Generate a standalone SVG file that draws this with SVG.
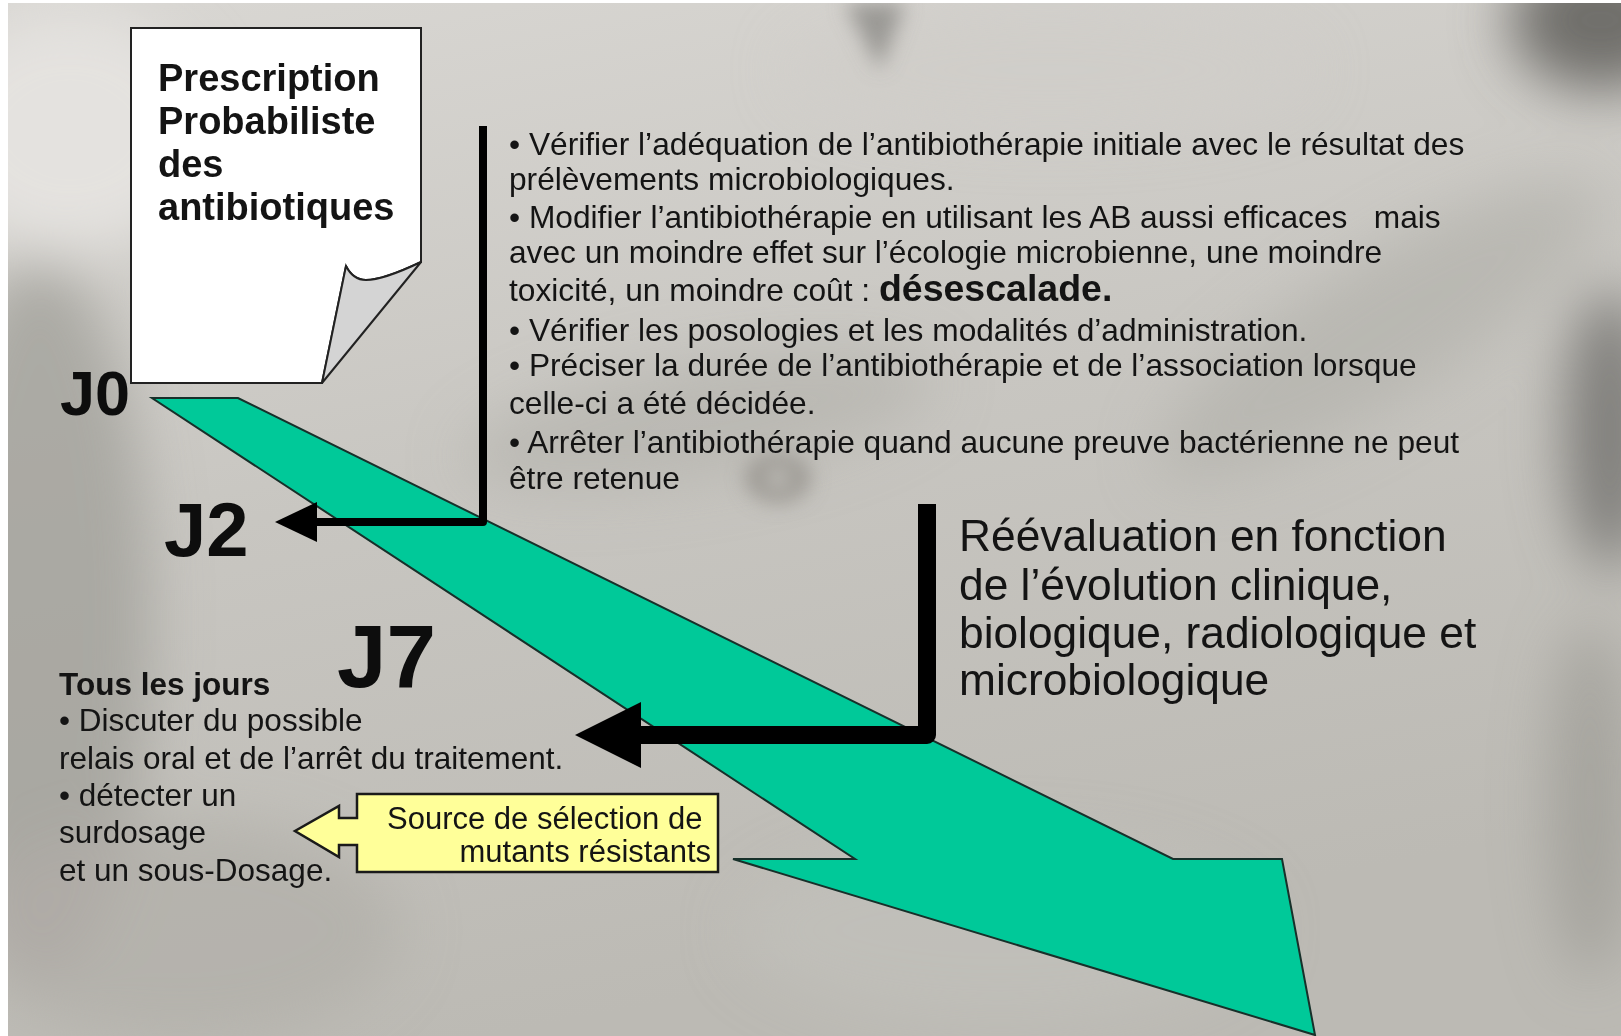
<svg xmlns="http://www.w3.org/2000/svg" width="1621" height="1036" viewBox="0 0 1621 1036">
  <defs>
    <linearGradient id="bg" x1="0" y1="0" x2="0.3" y2="1">
      <stop offset="0" stop-color="#d9d7d3"/>
      <stop offset="0.5" stop-color="#c8c6c1"/>
      <stop offset="1" stop-color="#bcbab4"/>
    </linearGradient>
    <filter id="blur" x="-50%" y="-50%" width="200%" height="200%">
      <feGaussianBlur stdDeviation="28"/>
    </filter>
    <filter id="blur2" x="-50%" y="-50%" width="200%" height="200%">
      <feGaussianBlur stdDeviation="10"/>
    </filter>
    <clipPath id="photo">
      <rect x="8" y="3" width="1613" height="1033"/>
    </clipPath>
    <style>
      .t { font-family: "Liberation Sans", Arial, sans-serif; fill: #141414; }
      .mid { font-size: 31.7px; }
      .big { font-size: 44.3px; }
      .left { font-size: 31.5px; }
      .b { font-weight: bold; }
      .day { font-family: "Liberation Sans", Arial, sans-serif; font-weight: bold; fill: #0d0d0d; }
      .bar { fill: none; stroke: #000; stroke-linejoin: round; stroke-linecap: butt; }
    </style>
  </defs>

  <!-- background photo approximation -->
  <rect width="1621" height="1036" fill="#ffffff"/>
  <g id="background" clip-path="url(#photo)">
    <rect x="8" y="3" width="1613" height="1033" fill="url(#bg)"/>
    <g filter="url(#blur)">
      <ellipse cx="70" cy="130" rx="140" ry="120" fill="#e4e2df"/>
      <ellipse cx="40" cy="620" rx="110" ry="360" fill="#a3a19b" opacity="0.8"/>
      <ellipse cx="180" cy="930" rx="220" ry="110" fill="#b0aea8" opacity="0.7"/>
      <ellipse cx="1600" cy="20" rx="90" ry="70" fill="#6f6e6b"/>
      <ellipse cx="1610" cy="430" rx="45" ry="140" fill="#7f7e7a"/>
      <ellipse cx="1590" cy="800" rx="40" ry="180" fill="#9a9893" opacity="0.7"/>
      <ellipse cx="1380" cy="330" rx="260" ry="70" fill="#b4b2ad" opacity="0.7" transform="rotate(-32 1380 330)"/>
      <ellipse cx="700" cy="420" rx="240" ry="60" fill="#b2b0aa" opacity="0.6" transform="rotate(-10 700 420)"/>
      <ellipse cx="1050" cy="70" rx="260" ry="60" fill="#cfcdc9" opacity="0.8"/>
      <ellipse cx="1000" cy="930" rx="260" ry="90" fill="#c2c0bb" opacity="0.7"/>
    </g>
    <g filter="url(#blur2)">
      <path d="M845,3 L905,3 L880,70 Z" fill="#8c8b87" opacity="0.8"/>
      <ellipse cx="778" cy="478" rx="32" ry="24" fill="#8e8c86" opacity="0.8"/>
      <ellipse cx="778" cy="478" rx="12" ry="8" fill="#c9c7c2"/>
    </g>
  </g>

  <!-- main timeline arrow -->
  <g id="timeline">
    <polygon points="152,398 238,398 1173,859 1282,859 1315,1035 733,859 855,859" fill="#00c999" stroke="#17302a" stroke-width="2" stroke-linejoin="miter"/>
  </g>

  <!-- connectors -->
  <g id="connectors">
    <path class="bar" d="M483,126 V522 H312" stroke-width="8"/>
    <polygon points="275,522 317,502 317,542" fill="#000"/>
    <path class="bar" d="M927,504 V735 H636" stroke-width="18"/>
    <polygon points="575,735 641,702 641,768" fill="#000"/>
  </g>

  <!-- prescription note -->
  <g id="node-prescription">
    <path d="M131,28 H421 V262 C400,272 380,280 366,280 C356,280 350,274 346,266 L322,383 H131 Z" fill="#ffffff" stroke="#222" stroke-width="2"/>
    <path d="M421,262 C400,272 380,280 366,280 C356,280 350,274 346,266 L322,383 Z" fill="#d4d4d4" stroke="#222" stroke-width="2" stroke-linejoin="round"/>
    <text class="t b" font-size="38">
      <tspan x="158" y="91">Prescription</tspan>
      <tspan x="158" y="134">Probabiliste</tspan>
      <tspan x="158" y="177">des</tspan>
      <tspan x="158" y="220">antibiotiques</tspan>
    </text>
  </g>

  <!-- day labels -->
  <g id="node-j0"><text class="day" x="60" y="415" font-size="63">J0</text></g>
  <g id="node-j2"><text class="day" x="164" y="556" font-size="76">J2</text></g>
  <g id="node-j7"><text class="day" x="337" y="687" font-size="89">J7</text></g>

  <!-- J2 actions -->
  <g id="node-j2-actions">
    <text class="t mid" xml:space="preserve">
      <tspan x="509" y="155">• Vérifier l’adéquation de l’antibiothérapie initiale avec le résultat des</tspan>
      <tspan x="509" y="190">prélèvements microbiologiques.</tspan>
      <tspan x="509" y="228">• Modifier l’antibiothérapie en utilisant les AB aussi efficaces   mais</tspan>
      <tspan x="509" y="263">avec un moindre effet sur l’écologie microbienne, une moindre</tspan>
      <tspan x="509" y="301">toxicité, un moindre coût : <tspan class="b" font-size="37.5">désescalade.</tspan></tspan>
      <tspan x="509" y="341">• Vérifier les posologies et les modalités d’administration.</tspan>
      <tspan x="509" y="376">• Préciser la durée de l’antibiothérapie et de l’association lorsque</tspan>
      <tspan x="509" y="414">celle-ci a été décidée.</tspan>
      <tspan x="509" y="453">• Arrêter l’antibiothérapie quand aucune preuve bactérienne ne peut</tspan>
      <tspan x="509" y="489">être retenue</tspan>
    </text>
  </g>

  <!-- J7 reevaluation -->
  <g id="node-j7-reevaluation">
    <text class="t big">
      <tspan x="959" y="551">Réévaluation en fonction</tspan>
      <tspan x="959" y="600">de l’évolution clinique,</tspan>
      <tspan x="959" y="648">biologique, radiologique et</tspan>
      <tspan x="959" y="695">microbiologique</tspan>
    </text>
  </g>

  <!-- daily tasks -->
  <g id="node-daily">
    <text class="t left">
      <tspan x="59" y="695" class="b">Tous les jours</tspan>
      <tspan x="59" y="731">• Discuter du possible</tspan>
      <tspan x="59" y="769">relais oral et de l’arrêt du traitement.</tspan>
      <tspan x="59" y="806">• détecter un</tspan>
      <tspan x="59" y="843">surdosage</tspan>
      <tspan x="59" y="881">et un sous-Dosage.</tspan>
    </text>
  </g>

  <!-- callout -->
  <g id="node-callout">
    <path d="M357,794 H718 V872 H357 V845 H339 V857 L295,831 L339,806 V818 H357 Z" fill="#ffff99" stroke="#1a1a1a" stroke-width="2.5" stroke-linejoin="miter"/>
    <text class="t" font-size="31" text-anchor="end">
      <tspan x="711" y="829">Source de sélection de</tspan>
      <tspan x="711" y="862">mutants résistants</tspan>
    </text>
  </g>
</svg>
